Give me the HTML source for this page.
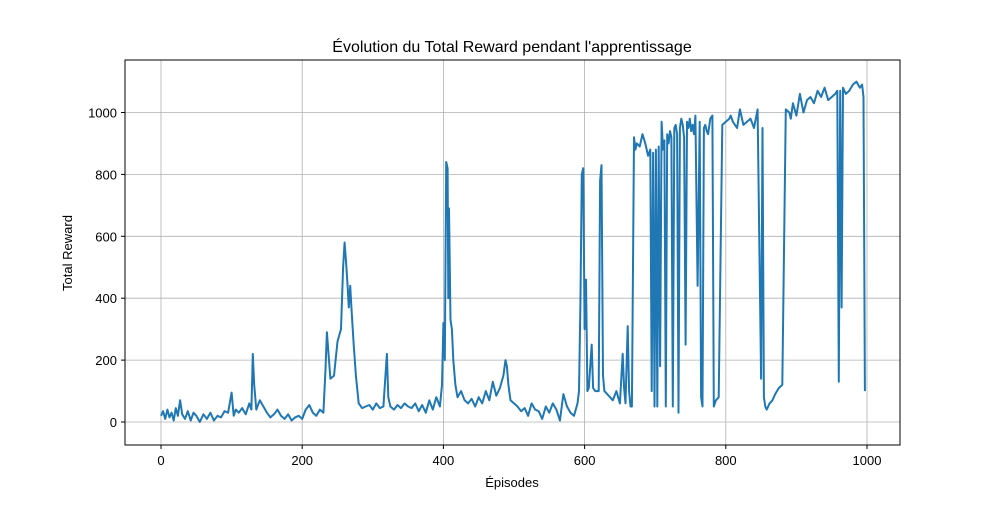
<!DOCTYPE html>
<html><head><meta charset="utf-8"><style>
body{margin:0;background:#fff;font-family:"Liberation Sans","DejaVu Sans",sans-serif}
svg text{font-family:"Liberation Sans","DejaVu Sans",sans-serif;font-size:13px;fill:#000}
</style></head><body>
<svg id="chart" width="1000" height="500" xmlns="http://www.w3.org/2000/svg">
<rect x="0" y="0" width="1000" height="500" fill="#fff"/>
<g id="grid"></g>
<g id="series"></g>
<rect x="125" y="60" width="775" height="385" fill="none" stroke="#000" stroke-width="1"/>
<g id="ticks"></g>
<text x="512" y="52" text-anchor="middle" style="font-size:16px">Évolution du Total Reward pendant l'apprentissage</text>
<text x="512" y="487" text-anchor="middle">Épisodes</text>
<text x="72" y="253" text-anchor="middle" transform="rotate(-90 72 253)">Total Reward</text>
</svg>
<script>
const episodes=[
0,3,6,9,12,15,18,21,24,27,
30,34,38,42,46,50,55,60,65,70,
75,80,85,90,95,100,103,106,110,115,
120,125,128,130,132,135,140,145,150,155,
160,165,170,175,180,185,190,195,200,205,
210,215,220,225,230,233,235,238,240,245,
250,255,258,260,262,264,266,268,270,273,
276,280,285,290,295,300,305,310,315,320,
322,325,330,335,340,345,350,355,360,365,
370,375,380,385,390,395,398,400,402,404,
406,407,408,410,412,414,417,420,425,430,
435,440,445,450,455,460,465,470,475,480,
485,488,490,492,495,500,505,510,515,520,
525,530,535,540,545,550,555,560,565,570,
575,580,585,590,592,594,596,598,600,602,
604,606,610,612,615,620,622,624,626,628,
632,636,640,645,650,654,656,658,661,663,
665,667,670,672,674,678,682,686,690,693,
695,697,699,701,703,705,707,709,711,713,
715,717,719,721,723,725,727,729,731,733,
735,737,739,741,743,745,747,749,751,753,
755,757,760,763,765,767,769,771,773,775,
778,781,783,786,790,795,800,805,807,810,
813,816,820,825,830,835,840,845,850,852,
854,856,858,862,866,870,875,880,885,890,
892,895,900,905,910,915,920,925,930,935,
940,945,950,955,958,960,962,964,966,970,
975,980,985,990,993,995,997];
const rewards=[
20,35,10,40,15,30,5,45,20,70,
25,10,35,5,30,20,0,25,10,30,
5,20,15,35,30,95,20,40,30,45,
25,60,40,220,120,40,70,50,30,15,
25,40,20,10,25,5,15,20,10,40,
55,30,20,40,30,170,290,200,140,150,
260,300,500,580,520,450,370,440,360,250,
150,60,45,50,55,40,60,45,50,220,
80,50,40,55,45,60,50,45,60,35,
55,30,70,40,80,50,120,320,200,840,
820,400,690,330,300,200,120,80,100,70,
60,75,50,80,60,100,70,130,85,110,
150,200,180,120,70,60,50,35,45,20,
60,40,35,10,50,30,60,40,5,90,
50,30,20,60,100,380,800,820,300,460,
100,110,250,110,100,100,780,830,150,100,
90,80,70,100,60,220,110,60,310,100,
50,50,920,880,900,890,930,900,860,880,
100,870,50,880,50,890,180,970,880,910,
50,930,900,940,920,50,950,960,930,30,
950,980,960,920,250,970,950,980,940,960,
930,990,440,970,80,50,950,960,940,930,
980,990,50,70,80,960,970,980,990,970,
960,950,1010,960,970,980,950,1010,140,950,
80,50,40,60,70,90,110,120,1010,1000,
980,1030,990,1060,1000,1040,1050,1030,1070,1050,
1080,1040,1050,1060,1070,130,1070,370,1080,1060,
1070,1090,1100,1080,1090,1050,100];
const yTicks=[0,200,400,600,800,1000];
const xTicks=[0,200,400,600,800,1000];
const X=v=>161+v*0.706, Y=v=>422-v*0.3095;
const NS='http://www.w3.org/2000/svg';
const grid=document.getElementById('grid'),ticks=document.getElementById('ticks'),ser=document.getElementById('series');
function mk(t,a,p){const e=document.createElementNS(NS,t);for(const k in a)e.setAttribute(k,a[k]);p.appendChild(e);return e;}
xTicks.forEach(v=>{
 const g=mk('line',{x1:X(v),x2:X(v),y1:60,y2:445,stroke:'#b0b0b0','stroke-width':0.8},grid);
 
 
 mk('line',{x1:X(v),x2:X(v),y1:445,y2:449,stroke:'#000'},ticks);
 const t=mk('text',{x:X(v),y:465,'text-anchor':'middle'},ticks);t.textContent=v;
 
 
});
yTicks.forEach(v=>{
 const g=mk('line',{x1:125,x2:900,y1:Y(v),y2:Y(v),stroke:'#b0b0b0','stroke-width':0.8},grid);
 
 
 mk('line',{x1:121,x2:125,y1:Y(v),y2:Y(v),stroke:'#000'},ticks);
 const t=mk('text',{x:117,y:Y(v)+5,'text-anchor':'end'},ticks);t.textContent=v;
 
 
});
const n=Math.min(episodes.length,rewards.length);
let d='';
for(let i=0;i<n;i++)d+=(i?'L':'M')+X(episodes[i]).toFixed(1)+' '+Y(rewards[i]).toFixed(1);
const p=mk('path',{d:d,fill:'none',stroke:'#1f77b4','stroke-width':2,'stroke-linejoin':'round'},ser);


</script>
</body></html>
